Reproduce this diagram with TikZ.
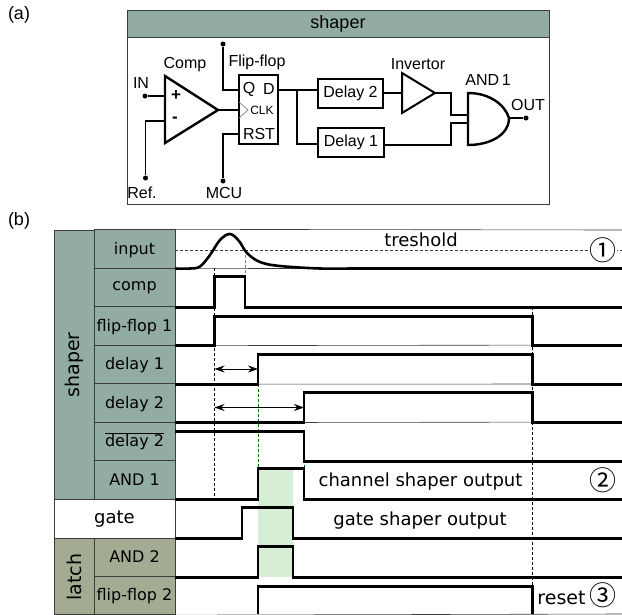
\documentclass[tikz,border=0pt]{standalone}
\usepackage{fontspec}
\setmainfont{DejaVu Sans}
\newfontfamily\arialfont{Liberation Sans}
\newfontfamily\circfont{Noto Sans CJK JP}
\usetikzlibrary{arrows.meta}
\definecolor{shaperfill}{HTML}{92ABA5}
\definecolor{latchfill}{HTML}{A3AB93}
\definecolor{windowfill}{HTML}{D6EDD6}
\definecolor{griddark}{HTML}{3C3C3C}
\tikzset{
  lbl/.style={font=\arialfont\fontsize{16}{18}\selectfont,inner sep=0pt},
  partlbl/.style={font=\arialfont\fontsize{18}{20}\selectfont,inner sep=0pt},
  txt/.style={font=\fontsize{18}{20}\selectfont,inner sep=0pt},
  numtxt/.style={font=\circfont\fontsize{27}{27}\selectfont,inner sep=0pt},
  cell/.style={draw=griddark,line width=0.8pt,inner sep=0pt,font=\fontsize{16}{18}\selectfont,text height=14pt,text depth=4pt},
  sigcell/.style={cell,fill=shaperfill,minimum width=81,minimum height=38.5},
  latchcell/.style={cell,fill=latchfill,minimum width=81,minimum height=38.5},
  block/.style={draw,line width=2.4pt,inner sep=0pt,font=\arialfont\fontsize{16}{18}\selectfont},
  pin/.style={circle,fill=black,inner sep=0pt,minimum size=5},
  wire/.style={line width=1.2pt},
  gate/.style={line width=2pt,line join=miter},
  wave/.style={line width=2.6pt,line join=miter},
  rowline/.style={line width=0.6pt,griddark},
  guide/.style={line width=0.6pt,densely dashed},
  span/.style={line width=0.9pt,{Stealth[length=10pt,width=7pt]}-{Stealth[length=10pt,width=7pt]}}
}
\begin{document}
\begin{tikzpicture}[x=1pt,y=-1pt]
\useasboundingbox (0,0) rectangle (622,614);
\node[partlbl] (parta) at (19,15) {(a)};
\node[partlbl] (partb) at (19,221) {(b)};

\node[draw=griddark,line width=0.8pt,minimum width=422,minimum height=194,inner sep=0pt] (frame) at (338,107) {};
\node[draw=griddark,line width=0.8pt,fill=shaperfill,minimum width=422,minimum height=27,inner sep=0pt,font=\arialfont\fontsize{18}{20}\selectfont] (title) at (338,23.5) {shaper};

\coordinate (compA) at (165,76);
\coordinate (compB) at (165,143);
\coordinate (compOut) at (218,110);
\coordinate (compP) at (165,96);
\coordinate (compM) at (165,121);
\draw[gate,line width=2.4pt] (compA) -- (compOut) -- (compB) -- cycle;
\node[lbl,font=\arialfont\bfseries\fontsize{17}{17}\selectfont] (plus) at (176,96) {+};
\node[lbl,font=\arialfont\bfseries\fontsize{17}{17}\selectfont] (minus) at (175,120) {-};
\node[lbl] (complbl) at (185,65) {Comp};
\node[lbl] (inlbl) at (141,83) {IN};
\node[pin] (in) at (145,96) {};
\node[lbl] (reflbl) at (142,193) {Ref.};
\node[pin] (ref) at (145.5,178) {};
\draw[wire] (in) -- (compP);
\draw[wire] (ref) |- (compM);

\node[block,minimum width=39.5,minimum height=69] (ff) at (258.5,109.5) {};
\node[lbl] (fflbl) at (257,62) {Flip-flop};
\node[lbl] (q) at (249,89) {Q};
\node[lbl] (d) at (269,89) {D};
\node[lbl,font=\arialfont\fontsize{12}{14}\selectfont] (clk) at (262,110) {CLK};
\node[lbl] (rst) at (259,134) {RST};
\coordinate (ffQ) at (238.5,90);
\coordinate (ffD) at (278,90);
\coordinate (ffC) at (238.5,110);
\coordinate (ffR) at (238.5,134);
\draw[line width=0.7pt,gray] (239,102) -- (248,110) -- (239,118);
\node[pin] (top) at (223,44) {};
\node[pin] (mcu) at (223,181) {};
\node[lbl] (mculbl) at (224,193) {MCU};
\draw[wire] (top) |- (ffQ);
\draw[wire] (mcu) |- (ffR);
\draw[wire] (compOut) -- (ffC);

\node[block,minimum width=65,minimum height=29] (delayb) at (350.5,93.5) {Delay 2};
\node[block,minimum width=66,minimum height=29] (delaya) at (351,142.5) {Delay 1};
\coordinate (split) at (297,90);
\coordinate (delaybIn) at (318,90);
\coordinate (delayaIn) at (318,144);
\draw[wire] (ffD) -- (delaybIn);
\draw[wire] (split) |- (delayaIn);

\coordinate (invA) at (402,73);
\coordinate (invB) at (402,113);
\coordinate (invOut) at (435,93);
\coordinate (invIn) at (402,93);
\draw[gate] (invA) -- (invOut) -- (invB) -- cycle;
\node[lbl] (invlbl) at (418,64) {Invertor};
\draw[wire] (delayb.east |- invIn) -- (invIn);

\coordinate (andIa) at (468,115);
\coordinate (andIb) at (468,123);
\coordinate (andOut) at (509,118);
\draw[gate,line width=2.4pt] (468,93) -- (468,145) .. controls (490,145) and (509,135) .. (andOut) .. controls (505,105) and (490,93) .. (468,93) -- cycle;
\node[lbl] (andlbl) at (488,80) {AND\,1};
\node[lbl] (outlbl) at (528,105) {OUT};
\node[pin] (out) at (526,118) {};
\draw[wire] (invOut) -- (451,93) |- (andIa);
\draw[wire] (delaya.east) ++(0,2.5) -- (451,145) |- (andIb);
\draw[wire] (andOut) -- (out);

\fill[windowfill] (258,470) rectangle (293,577);

\node[cell,fill=shaperfill,minimum width=40,minimum height=269] (shaper) at (74,364.5) {};
\node[txt,rotate=90,font=\fontsize{19}{20}\selectfont] (shaperlbl) at (74,365) {shaper};
\node[sigcell] (input) at (134.5,249) {input};
\node[sigcell,text height=11.5pt,text depth=6.5pt] (comp) at (134.5,287.5) {comp};
\node[sigcell] (ffa) at (134.5,326) {flip-flop 1};
\node[sigcell] (dela) at (134.5,364.5) {delay 1};
\node[sigcell] (delb) at (134.5,403) {delay 2};
\node[sigcell] (delbar) at (134.5,441.5) {$\overline{\mbox{delay 2}}$};
\node[sigcell] (anda) at (134.5,480) {AND 1};
\node[cell,fill=white,minimum width=121,minimum height=39,font=\fontsize{18}{20}\selectfont] (gatecell) at (114.5,518.5) {gate};
\node[cell,fill=latchfill,minimum width=40,minimum height=76] (latch) at (74,576) {};
\node[txt,rotate=90,font=\fontsize{19}{20}\selectfont] (latchlbl) at (74,577) {latch};
\node[latchcell] (andb) at (134.5,557.5) {AND 2};
\node[latchcell] (ffb) at (134.5,595.5) {flip-flop 2};

\draw[rowline] (input.north east) -- (622,230);
\draw[rowline] (input.south east) -- (622,268);
\draw[rowline] (ffa.south east) -- (622,345);
\draw[rowline] (dela.south east) -- (622,384);
\draw[rowline] (delb.south east) -- (622,422);
\draw[rowline] (ffb.south east) -- (622,614);

\draw[guide,griddark] (input.east |- 0,250.5) -- (622,250.5);
\draw[guide] (214.5,268) -- (214.5,497);
\draw[guide,gray] (245,250) -- (245,276);
\draw[guide,green!45!black] (258,384) -- (258,468);
\draw[guide,green!45!black] (304,430) -- (304,499);
\draw[guide] (532.5,307) -- (532.5,590);

\draw[wave] plot[smooth,tension=0.6] coordinates {(175,268.5) (190,268.5) (200,266.5) (210,255) (220,240) (230,234) (239,241) (247,253) (260,262) (280,266) (320,268.5) (350,268.5)} -- (622,268.5);
\draw[wave] (175,307.5) -- (214.5,307.5) -- (214.5,276.5) -- (245,276.5) -- (245,307.5) -- (622,307.5);
\draw[wave] (175,345.5) -- (214.5,345.5) -- (214.5,316.5) -- (532.5,316.5) -- (532.5,345.5) -- (622,345.5);
\draw[wave] (175,384.5) -- (258,384.5) -- (258,354.5) -- (532.5,354.5) -- (532.5,384.5) -- (622,384.5);
\draw[wave] (175,422.5) -- (304,422.5) -- (304,392.5) -- (532.5,392.5) -- (532.5,422.5) -- (622,422.5);
\draw[wave] (175,431.5) -- (304,431.5) -- (304,461.5) -- (622,461.5);
\draw[wave] (175,499.5) -- (258,499.5) -- (258,468.5) -- (304,468.5) -- (304,499.5) -- (622,499.5);
\draw[wave] (175,538.5) -- (242,538.5) -- (242,507.5) -- (293,507.5) -- (293,538.5) -- (622,538.5);
\draw[wave] (175,577.5) -- (258,577.5) -- (258,546.5) -- (293,546.5) -- (293,577.5) -- (622,577.5);
\draw[wave] (258,614) -- (258,586.5) -- (532.5,586.5) -- (532.5,614);

\coordinate (spanL) at (214.5,369);
\coordinate (spanM) at (258,369);
\coordinate (spanK) at (214.5,407.5);
\coordinate (spanR) at (304,407.5);
\draw[span] (spanL) -- (spanM);
\draw[span] (spanK) -- (spanR);

\node[txt,anchor=base] (treshold) at (421,246) {treshold};
\node[txt,anchor=base] (chanout) at (420.5,486.5) {channel shaper output};
\node[txt,anchor=base] (gateout) at (420,525) {gate shaper output};
\node[txt,anchor=base,font=\fontsize{19}{20}\selectfont] (reset) at (561.5,604) {reset};
\node[numtxt,fill=white] (one) at (603,250) {①};
\node[numtxt] (two) at (603,480) {②};
\node[numtxt] (three) at (603,595) {③};
\end{tikzpicture}
\end{document}
